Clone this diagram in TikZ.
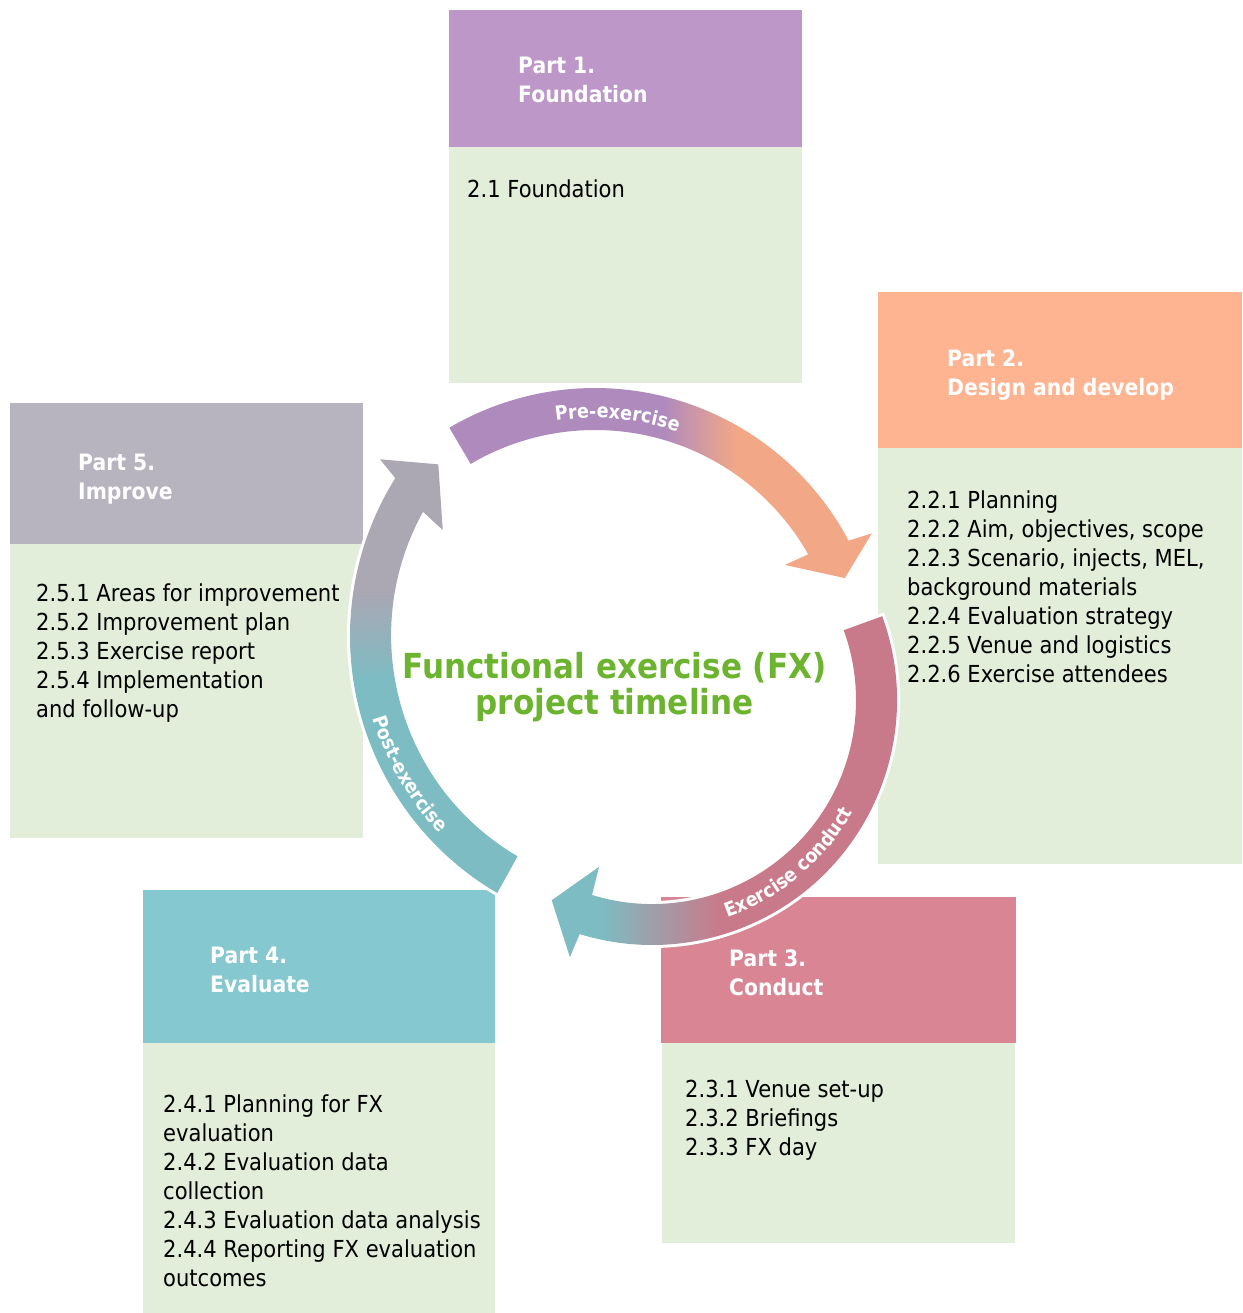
\documentclass[tikz,border=0pt]{standalone}
\usepackage{fontspec}
\setmainfont{DejaVu Sans}[FakeStretch=0.9]
\usetikzlibrary{decorations.text}
\definecolor{pone}{HTML}{BC97C8}
\definecolor{ptwo}{HTML}{FFB491}
\definecolor{pthree}{HTML}{D98594}
\definecolor{pfour}{HTML}{86C8D0}
\definecolor{pfive}{HTML}{B7B3BF}
\definecolor{bodyc}{HTML}{E2EDDA}
\definecolor{apurple}{HTML}{AF8ABD}
\definecolor{aorange}{HTML}{F2A886}
\definecolor{apink}{HTML}{C97A8A}
\definecolor{ateal}{HTML}{7DBCC3}
\definecolor{agray}{HTML}{ABA7B3}
\definecolor{titlec}{HTML}{6CB42F}
\tikzset{
  hdrbox/.style={anchor=north west, inner sep=0pt, outer sep=0pt, draw=none},
  bodybox/.style={anchor=north west, inner sep=0pt, outer sep=0pt, draw=none, fill=bodyc},
  hdrtext/.style={anchor=base west, inner sep=0pt, align=left, text=white,
     font=\bfseries\fontsize{22.6}{29}\selectfont},
  bodytext/.style={anchor=base west, inner sep=0pt, align=left, text=black,
     font=\fontsize{23.4}{29}\selectfont},
  arcpathA/.style={insert path={(120.5:287) arc[start angle=120.5, end angle=27.9, radius=287]
     -- (27.1:311) -- (21.2:268) -- (30.1:219.5) -- (29.5:245)
     arc[start angle=29.5, end angle=120.5, radius=245] -- cycle}},
  arcpathB/.style={insert path={(20:245) arc[start angle=20, end angle=-107.2, radius=245]
     -- (-107.7:270) -- (-116.6:224) -- (-107.6:175) -- (-107.1:204)
     arc[start angle=-107.1, end angle=20, radius=204] -- cycle}},
  arcpathC/.style={insert path={(239.6:298) arc[start angle=239.6, end angle=148, radius=298]
     -- (146.6:321) -- (140.7:271) -- (152.7:231) -- (151.1:257)
     arc[start angle=151.1, end angle=239.6, radius=256] -- cycle}},
  outline/.style={draw=white, line width=6pt, line join=miter},
  arclabel/.style={decorate, decoration={text along path, text align=center, text color=white,
     text={|\bfseries\fontsize{19.5}{19.5}\selectfont|#1}}}
}
\begin{document}
\begin{tikzpicture}[x=1pt,y=1pt]
\useasboundingbox (0,0) rectangle (1242,-1313);
\fill[white] (0,0) rectangle (1242,-1313);

% Part 1
\node[hdrbox, fill=pone, minimum width=353pt, minimum height=137pt] (h1) at (449,-10) {};
\node[bodybox, minimum width=353pt, minimum height=236pt] (b1) at (449,-147) {};
\node[hdrtext] (t1) at (518,-103) {Part 1.\\Foundation};
\node[bodytext] (s1) at (467,-198) {2.1 Foundation};

% Part 2
\node[hdrbox, fill=ptwo, minimum width=364pt, minimum height=156pt] (h2) at (878,-292) {};
\node[bodybox, minimum width=364pt, minimum height=416pt] (b2) at (878,-448) {};
\node[hdrtext] (t2) at (947,-395) {Part 2.\\Design and develop};
\node[bodytext] (s2) at (907,-682) {2.2.1 Planning\\2.2.2 Aim, objectives, scope\\2.2.3 Scenario, injects, MEL,\\background materials\\2.2.4 Evaluation strategy\\2.2.5 Venue and logistics\\2.2.6 Exercise attendees};

% Part 3
\node[hdrbox, fill=pthree, minimum width=355pt, minimum height=146pt] (h3) at (661,-897) {};
\node[bodybox, minimum width=353pt, minimum height=200pt] (b3) at (662,-1043) {};
\node[hdrtext] (t3) at (729,-995) {Part 3.\\Conduct};
\node[bodytext] (s3) at (685,-1155) {2.3.1 Venue set-up\\2.3.2 Briefings\\2.3.3 FX day};

% Part 4
\node[hdrbox, fill=pfour, minimum width=352pt, minimum height=153pt] (h4) at (143,-890) {};
\node[bodybox, minimum width=352pt, minimum height=270pt] (b4) at (143,-1043) {};
\node[hdrtext] (t4) at (210,-992) {Part 4.\\Evaluate};
\node[bodytext] (s4) at (163,-1286) {2.4.1 Planning for FX\\evaluation\\2.4.2 Evaluation data\\collection\\2.4.3 Evaluation data analysis\\2.4.4 Reporting FX evaluation\\outcomes};

% Part 5
\node[hdrbox, fill=pfive, minimum width=353pt, minimum height=141pt] (h5) at (10,-403) {};
\node[bodybox, minimum width=353pt, minimum height=294pt] (b5) at (10,-544) {};
\node[hdrtext] (t5) at (78,-499) {Part 5.\\Improve};
\node[bodytext] (s5) at (36,-717) {2.5.1 Areas for improvement\\2.5.2 Improvement plan\\2.5.3 Exercise report\\2.5.4 Implementation\\and follow-up};

% Arrow A: Pre-exercise
\begin{scope}[shift={(595,-675)}]
  \path[outline, arcpathA];
  \begin{scope}
    \clip[arcpathA];
    \fill[apurple] (-250,-50) rectangle (68,350);
    \shade[left color=apurple, right color=aorange] (68,-50) rectangle (142,350);
    \fill[aorange] (142,-50) rectangle (350,350);
  \end{scope}
  \path[arclabel=Pre-exercise] (115:257) arc[start angle=115, end angle=55, radius=257];
\end{scope}

% Arrow B: Exercise conduct
\begin{scope}[shift={(652,-700)}]
  \path[outline, arcpathB];
  \begin{scope}
    \clip[arcpathB];
    \fill[ateal] (-200,-320) rectangle (-52,100);
    \shade[left color=ateal, right color=apink] (-52,-320) rectangle (68,100);
    \fill[apink] (68,-320) rectangle (300,100);
  \end{scope}
  \path[arclabel=Exercise conduct] (-85:230) arc[start angle=-85, end angle=-15, radius=230];
\end{scope}

% Arrow C: Post-exercise
\begin{scope}[shift={(648,-636)}]
  \path[outline, arcpathC];
  \begin{scope}
    \clip[arcpathC];
    \fill[agray] (-350,46) rectangle (0,300);
    \shade[top color=agray, bottom color=ateal] (-350,-44) rectangle (0,46);
    \fill[ateal] (-350,-300) rectangle (0,-44);
  \end{scope}
  \path[arclabel=Post-exercise] (180:287) arc[start angle=180, end angle=240, radius=287];
\end{scope}

% Title
\node[anchor=base, inner sep=0pt, align=center, text=titlec,
  font=\bfseries\fontsize{34.5}{36}\selectfont] (title) at (614.5,-714)
  {Functional exercise (FX)\\project timeline};
\end{tikzpicture}
\end{document}
